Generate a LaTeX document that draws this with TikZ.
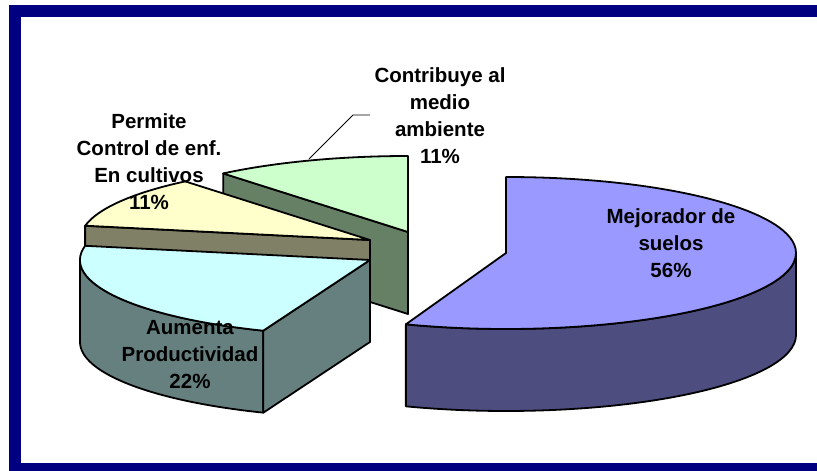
\documentclass[tikz,border=0pt]{standalone}
\usepackage{fontspec}
\setmainfont{Liberation Sans}
\definecolor{navyframe}{HTML}{000080}
\definecolor{mejtop}{HTML}{9999FF}
\definecolor{mejside}{HTML}{4D4D80}
\definecolor{aumtop}{HTML}{CCFFFF}
\definecolor{aumside}{HTML}{668080}
\definecolor{pertop}{HTML}{FFFFCC}
\definecolor{perside}{HTML}{808066}
\definecolor{contop}{HTML}{CCFFCC}
\definecolor{conside}{HTML}{668066}
\begin{document}
\begin{tikzpicture}[x=1pt,y=-1pt,
  face/.style={draw=black, line width=1.8pt, line join=round},
  lbl/.style={font=\bfseries\fontsize{20.5}{27}\selectfont, align=center, inner sep=0pt, text=black},
  ell/.style={x radius=290, y radius=76}]
\useasboundingbox (0,0) rectangle (817,471);
\fill[white] (0,0) rectangle (817,471);
% frame
\fill[navyframe] (9,5) rectangle (21,471);
\fill[navyframe] (9,5) rectangle (817,17);
\fill[navyframe] (9,463) rectangle (817,471);

% Contribuye (center 408,232), angles 90..129.6
\filldraw[face, fill=conside] (408,232) -- (223.2,173.4) -- (223.2,255.4) -- (408,314) -- cycle;
\filldraw[face, fill=contop] (408,232) -- (408,156) arc[start angle=-90, end angle=-129.6, ell] -- cycle;

% Permite (center 370,240), angles 129.6..169.2
\filldraw[face, fill=perside] (370,240) -- (85.1,225.8) -- (85.1,307.8) -- (370,322) -- cycle;
\filldraw[face, fill=pertop] (370,240) -- (185.2,181.4) arc[start angle=-129.6, end angle=-169.2, ell] -- cycle;

% Aumenta (center 370,260), angles 169.2..248.4
\filldraw[face, fill=aumside] (80,260) arc[start angle=-180, end angle=-248.4, ell] -- ++(0,82) arc[start angle=-248.4, end angle=-180, ell] -- cycle;
\filldraw[face, fill=aumside] (370,260) -- (263.3,330.7) -- (263.3,412.7) -- (370,342) -- cycle;
\filldraw[face, fill=aumtop] (370,260) -- (85.1,245.8) arc[start angle=-169.2, end angle=-248.4, ell] -- cycle;

% Mejorador (center 506,253), angles -110.2..90
\filldraw[face, fill=mejside] (796,253) arc[start angle=0, end angle=110.2, ell] -- ++(0,82) arc[start angle=110.2, end angle=0, ell] -- cycle;
\filldraw[face, fill=mejtop] (506,253) -- (506,177) arc[start angle=-90, end angle=110.2, ell] -- cycle;

% leader line
\coordinate (l1) at (309,159);
\coordinate (l2) at (353,115);
\coordinate (l3) at (370,115);
\draw[line width=0.8pt] (l1) -- (l2) -- (l3);

% labels
\node[lbl] (con) at (440,115.5) {Contribuye al\\medio\\ambiente\\11\%};
\node[lbl] (per) at (149,162) {Permite\\Control de enf.\\En cultivos\\11\%};
\node[lbl] (mej) at (671,243) {Mejorador de\\suelos\\56\%};
\node[lbl] (aum) at (190,355) {Aumenta\\Productividad\\22\%};
\end{tikzpicture}
\end{document}
